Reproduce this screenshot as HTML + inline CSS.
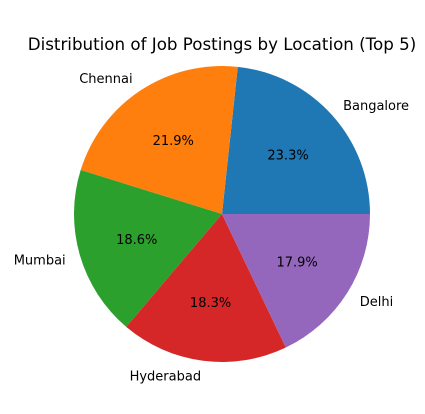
<!DOCTYPE html>
<html><head><meta charset="utf-8"><style>
body{margin:0;background:#fff;}
svg text{font-family:"DejaVu Sans","Liberation Sans",sans-serif;font-size:13px;fill:#000;}
</style></head><body>
<svg id="chart" width="425" height="409" viewBox="0 0 425 409">
<text x="222" y="50" text-anchor="middle" style="font-size:16.7px">Distribution of Job Postings by Location (Top 5)</text>
<g id="slices"></g>
</svg>
<script>
const categories=["Bangalore","Chennai","Mumbai","Hyderabad","Delhi"];
const values=[23.3,21.9,18.6,18.3,17.9];
const colors=["#1f77b4","#ff7f0e","#2ca02c","#d62728","#9467bd"];
const cx=222,cy=214,R=148;
const g=document.getElementById('slices');
const ns="http://www.w3.org/2000/svg";
const total=values.reduce((a,b)=>a+b,0);
let a0=0;
function pt(a,r){return [cx+r*Math.cos(a),cy-r*Math.sin(a)];}
values.forEach((v,i)=>{
  const a1=a0+v/total*2*Math.PI;
  const p0=pt(a0,R),p1=pt(a1,R);
  const large=(a1-a0)>Math.PI?1:0;
  const path=document.createElementNS(ns,'path');
  path.setAttribute('d',`M${cx},${cy} L${p0[0]},${p0[1]} A${R},${R} 0 ${large} 0 ${p1[0]},${p1[1]} Z`);
  path.setAttribute('fill',colors[i]);
  
  
  g.appendChild(path);
  const am=(a0+a1)/2;
  const lp=pt(am,R*1.1);
  const t=document.createElementNS(ns,'text');
  t.setAttribute('x',lp[0]);t.setAttribute('y',lp[1]+5);
  t.setAttribute('text-anchor',Math.cos(am)>=0?'start':'end');
  t.textContent=categories[i];
  
  
  g.appendChild(t);
  const pp=pt(am,R*0.6);
  const p=document.createElementNS(ns,'text');
  p.setAttribute('x',pp[0]);p.setAttribute('y',pp[1]+5);
  p.setAttribute('text-anchor','middle');
  p.textContent=v.toFixed(1)+'%';
  
  
  g.appendChild(p);
  a0=a1;
});
</script>
</body></html>
